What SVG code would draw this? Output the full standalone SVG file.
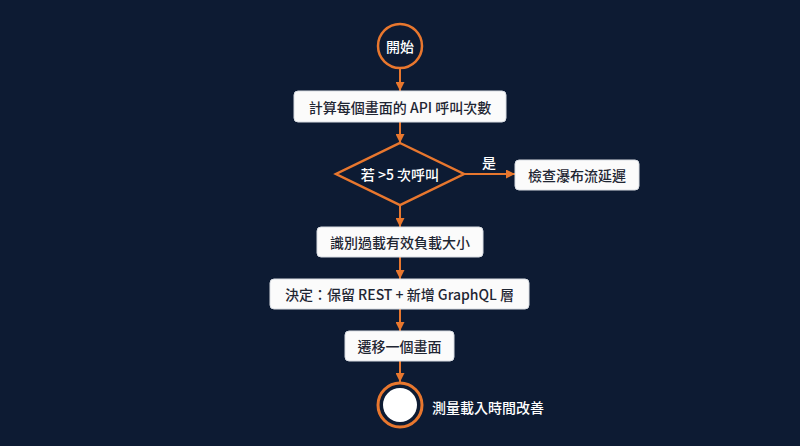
<svg xmlns="http://www.w3.org/2000/svg" width="800" height="446" viewBox="0 0 800 446">
<defs>
<style>
.bg{fill:#0d1b33}
.box{fill:#fbfbfb;stroke:#d9dde3;stroke-width:1}
.t{font-family:"Noto Sans CJK TC","Noto Sans",sans-serif;font-size:14px;font-weight:500;text-anchor:middle;dominant-baseline:central}
.dark{fill:#1f2633}
.light{fill:#ffffff}
.edge{stroke:#e8772e;stroke-width:2;fill:none}
.ring{stroke:#e8772e;stroke-width:2.5;fill:#0d1b33}
</style>
<marker id="ah" viewBox="0 0 10 10" refX="10" refY="5" markerWidth="4.5" markerHeight="4.5" orient="auto" markerUnits="strokeWidth">
<path d="M0,0 L10,5 L0,10 z" fill="#e8772e"/>
</marker>
</defs>
<rect class="bg" x="0" y="0" width="800" height="446"/>

<g id="connectors">
<line class="edge" x1="400" y1="68" x2="400" y2="91" marker-end="url(#ah)"/>
<line class="edge" x1="400" y1="122" x2="400" y2="143" marker-end="url(#ah)"/>
<line class="edge" x1="464" y1="174" x2="515" y2="174" marker-end="url(#ah)"/>
<text class="t light" x="489" y="162">是</text>
<line class="edge" x1="400" y1="205" x2="400" y2="227" marker-end="url(#ah)"/>
<line class="edge" x1="400" y1="257" x2="400" y2="279" marker-end="url(#ah)"/>
<line class="edge" x1="400" y1="309" x2="400" y2="331" marker-end="url(#ah)"/>
<line class="edge" x1="400" y1="361" x2="400" y2="382" marker-end="url(#ah)"/>
</g>

<g id="start">
<circle class="ring" cx="400" cy="46" r="22"/>
<text class="t light" x="400" y="46">開始</text>
</g>

<g id="count">
<rect class="box" x="294" y="91" width="212" height="31" rx="4"/>
<text class="t dark" x="400" y="106.5">計算每個畫面的 API 呼叫次數</text>
</g>

<g id="decision">
<polygon points="400,143 464,174 400,205 336,174" fill="#0d1b33" stroke="#e8772e" stroke-width="2.5" stroke-linejoin="miter"/>
<text class="t light" x="400" y="174">若 &gt;5 次呼叫</text>
</g>

<g id="waterfall">
<rect class="box" x="515" y="160" width="124" height="30" rx="4"/>
<text class="t dark" x="577" y="175">檢查瀑布流延遲</text>
</g>

<g id="payload">
<rect class="box" x="317" y="227" width="166" height="30" rx="4"/>
<text class="t dark" x="400" y="242">識別過載有效負載大小</text>
</g>

<g id="decide">
<rect class="box" x="270" y="279" width="259" height="30" rx="4"/>
<text class="t dark" x="399.5" y="294">決定：保留 REST + 新增 GraphQL 層</text>
</g>

<g id="migrate">
<rect class="box" x="345" y="331" width="109" height="30" rx="4"/>
<text class="t dark" x="399.5" y="346">遷移一個畫面</text>
</g>

<g id="end">
<circle cx="400" cy="405" r="22" fill="#0d1b33" stroke="#e8772e" stroke-width="3"/>
<circle cx="400" cy="405" r="17" fill="#ffffff"/>
<text class="t light" x="432" y="407" style="text-anchor:start">測量載入時間改善</text>
</g>
</svg>
